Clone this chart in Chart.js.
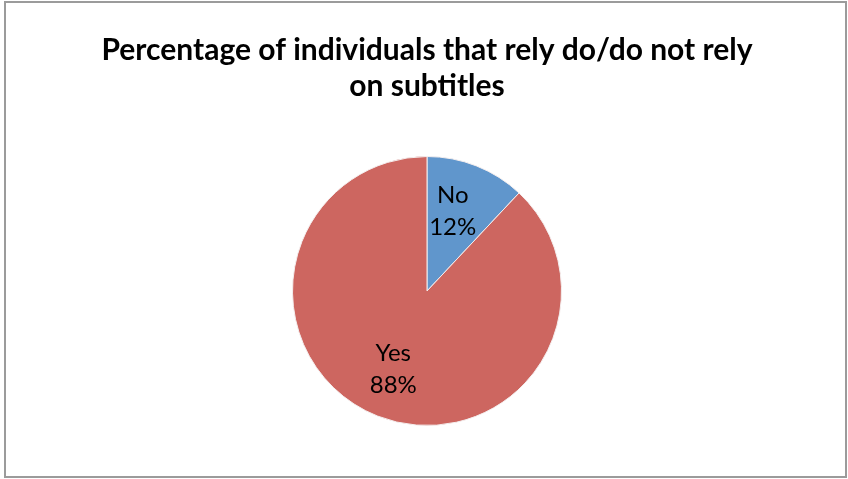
<!DOCTYPE html>
<html>
<head>
<meta charset="utf-8">
<script src="https://cdn.jsdelivr.net/npm/chart.js@4/dist/chart.umd.min.js"></script>
<style>
  html, body { margin: 0; padding: 0; background: #fff; }
  #wrap { position: relative; width: 848px; height: 479px; }
  #frame {
    position: absolute; left: 4px; top: 1px; width: 839px; height: 473px;
    border: 2px solid #9b9b9b; pointer-events: none;
  }
  canvas { position: absolute; left: 0; top: 0; }
</style>
</head>
<body>
<div id="wrap">
  <canvas id="pie" width="848" height="479"></canvas>
  <div id="frame"></div>
</div>
<script>
var labels = ['No', 'Yes'];
var shares = [12, 88];
var colors = ['#6096cc', '#cd6660'];
var titleLines = ['Percentage of individuals that rely do/do not rely', 'on subtitles'];

// draws "label / value%" inside each slice
var sliceLabels = {
  id: 'sliceLabels',
  afterDatasetsDraw: function (chart) {
    var ctx = chart.ctx;
    var meta = chart.getDatasetMeta(0);
    ctx.save();
    ctx.fillStyle = '#000';
    ctx.font = '24px Lato';
    ctx.textAlign = 'center';
    ctx.textBaseline = 'middle';
    meta.data.forEach(function (arc, i) {
      var mid = (arc.startAngle + arc.endAngle) / 2;
      var r = arc.outerRadius * 0.6;
      var x = arc.x + Math.cos(mid) * r - 4;
      var y = arc.y + Math.sin(mid) * r + (i === 0 ? -5 : 3);
      ctx.fillText(labels[i], x, y - 16);
      ctx.fillText(shares[i] + '%', x, y + 16);
    });
    ctx.restore();
  }
};

new Chart(document.getElementById('pie').getContext('2d'), {
  type: 'pie',
  data: {
    labels: labels,
    datasets: [{
      data: shares,
      backgroundColor: colors,
      borderColor: '#f4eeee',
      borderWidth: 1
    }]
  },
  options: {
    responsive: false,
    animation: false,
    layout: { padding: { top: 0, bottom: 53, left: 6, right: 0 } },
    plugins: {
      legend: { display: false },
      tooltip: { enabled: false },
      title: {
        display: true,
        text: titleLines,
        color: '#000',
        font: { family: 'Lato', size: 30, weight: 'bold', lineHeight: 1.2 },
        padding: { top: 32, bottom: 52 }
      }
    }
  },
  plugins: [sliceLabels]
});
</script>
</body>
</html>
